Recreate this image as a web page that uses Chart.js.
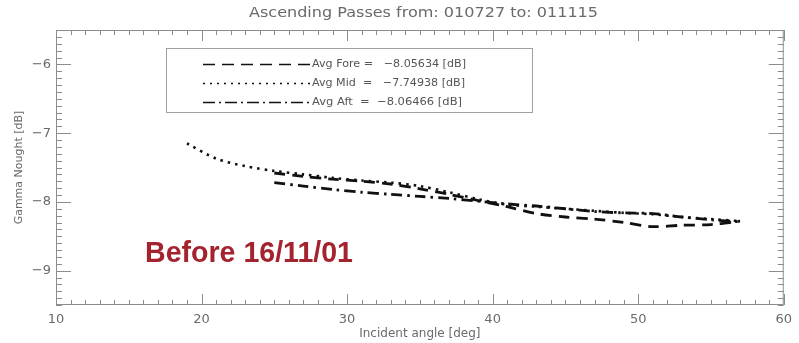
<!DOCTYPE html>
<html>
<head>
<meta charset="utf-8">
<script src="https://cdn.jsdelivr.net/npm/chart.js@4.4.1/dist/chart.umd.min.js"></script>
<style>
  html, body { margin: 0; padding: 0; background: #ffffff; }
  #chart { display: block; }
</style>
</head>
<body>
<canvas id="chart" width="799" height="343"></canvas>
<script>
// ---------------------------------------------------------------
// Data
// ---------------------------------------------------------------
const titleText = 'Ascending Passes from: 010727 to: 011115';
const noteText = 'Before 16/11/01';

const anglesMid = [19, 21, 23, 25, 27, 29, 31, 33, 35, 37, 39, 41, 43, 45, 47, 49, 51, 53, 55, 57];
const midValues = [-7.15, -7.37, -7.48, -7.55, -7.60, -7.65, -7.69, -7.72, -7.77, -7.86, -7.96, -8.04, -8.07, -8.10, -8.13, -8.16, -8.18, -8.22, -8.25, -8.28];

const anglesForeAft = [25, 27, 29, 31, 33, 35, 37, 39, 41, 43, 45, 47, 49, 51, 53, 55, 57];
const foreValues = [-7.58, -7.63, -7.67, -7.70, -7.74, -7.81, -7.89, -7.98, -8.07, -8.17, -8.22, -8.25, -8.30, -8.36, -8.34, -8.33, -8.28];
const aftValues  = [-7.72, -7.77, -7.82, -7.86, -7.89, -7.92, -7.95, -7.99, -8.03, -8.06, -8.10, -8.14, -8.16, -8.17, -8.22, -8.26, -8.29];

const legendRows = [
    'Avg Fore =   \u22128.05634 [dB]',
    'Avg Mid  =   \u22127.74938 [dB]',
    'Avg Aft  =  \u22128.06466 [dB]'
];
const legendDashes = [[12, 7], [2, 5], [12, 4, 2, 4]];

const xTicks = [10, 20, 30, 40, 50, 60];
const yTicks = [-9, -8, -7, -6];

// ---------------------------------------------------------------
// Styling helpers
// ---------------------------------------------------------------
const textGray = '#6a6a6a';
const frameGray = '#8c8c8c';
const fontFamily = "'DejaVu Sans', sans-serif";

const toPoints = (xs, ys) => xs.map((x, i) => ({ x: x, y: ys[i] }));

// draw text starting at x, stretched or squeezed to the given width
function fitText(ctx, text, x, y, width) {
    const w = ctx.measureText(text).width;
    ctx.save();
    ctx.translate(x, y);
    ctx.scale(width / w, 1);
    ctx.fillText(text, 0, 0);
    ctx.restore();
}

// Frame, inward ticks on all four sides, title, legend box and note
const decorations = {
    id: 'decorations',
    afterDraw(chart) {
        const { ctx, chartArea: a, scales: { x, y } } = chart;
        ctx.save();

        // frame
        ctx.strokeStyle = frameGray;
        ctx.lineWidth = 1;
        ctx.strokeRect(a.left + 0.5, a.top + 0.5, a.right - a.left - 1, a.bottom - a.top - 1);

        // ticks
        ctx.beginPath();
        for (let v = 10; v <= 60; v++) {
            const px = Math.round(x.getPixelForValue(v)) + 0.5;
            const len = v % 10 === 0 ? 11 : 5;
            ctx.moveTo(px, a.bottom); ctx.lineTo(px, a.bottom - len);
            ctx.moveTo(px, a.top); ctx.lineTo(px, a.top + len);
        }
        for (let i = -95; i <= -55; i++) {
            const py = Math.round(y.getPixelForValue(i / 10)) + 0.5;
            const len = i % 10 === 0 ? 15 : 6;
            ctx.moveTo(a.left, py); ctx.lineTo(a.left + len, py);
            ctx.moveTo(a.right, py); ctx.lineTo(a.right - len, py);
        }
        ctx.stroke();

        // title
        ctx.fillStyle = textGray;
        ctx.font = '14px ' + fontFamily;
        ctx.textAlign = 'left';
        ctx.textBaseline = 'middle';
        fitText(ctx, titleText, 249, 13, 349);

        // legend box
        ctx.strokeStyle = '#a0a0a0';
        ctx.strokeRect(166.5, 48.5, 366, 64);
        const rows = [64, 83, 102];
        const rowWidths = [154, 153, 150];
        ctx.font = '11px ' + fontFamily;
        rows.forEach((ry, i) => {
            ctx.strokeStyle = '#111111';
            ctx.lineWidth = 1.6;
            ctx.setLineDash(legendDashes[i]);
            ctx.beginPath();
            ctx.moveTo(203, ry + 0.5);
            ctx.lineTo(310, ry + 0.5);
            ctx.stroke();
            ctx.setLineDash([]);
            ctx.fillStyle = '#555555';
            fitText(ctx, legendRows[i], 312, ry, rowWidths[i]);
        });

        // red note, squeezed horizontally to the reference width
        ctx.fillStyle = '#a3242f';
        ctx.font = 'bold 29px "Liberation Sans", Arial, sans-serif';
        ctx.textBaseline = 'alphabetic';
        fitText(ctx, noteText, 145, 262, 208);

        ctx.restore();
    }
};

new Chart(document.getElementById('chart'), {
    type: 'line',
    data: {
        datasets: [
            {
                label: 'Avg Fore',
                data: toPoints(anglesForeAft, foreValues),
                borderColor: '#111111',
                borderWidth: 2.8,
                borderDash: [11, 7],
                pointRadius: 0,
                tension: 0.3
            },
            {
                label: 'Avg Mid',
                data: toPoints(anglesMid, midValues),
                borderColor: '#111111',
                borderWidth: 2.6,
                borderDash: [2.5, 5],
                pointRadius: 0,
                tension: 0.3
            },
            {
                label: 'Avg Aft',
                data: toPoints(anglesForeAft, aftValues),
                borderColor: '#111111',
                borderWidth: 2.8,
                borderDash: [11, 5, 2.5, 5],
                pointRadius: 0,
                tension: 0.3
            }
        ]
    },
    options: {
        responsive: false,
        animation: false,
        devicePixelRatio: 1,
        layout: { padding: { top: 30, right: 9, left: 0, bottom: 0 } },
        plugins: {
            legend: { display: false },
            tooltip: { enabled: false }
        },
        scales: {
            x: {
                type: 'linear',
                min: 10,
                max: 60,
                afterFit: (s) => { s.height = 38; },
                afterBuildTicks: (s) => { s.ticks = xTicks.map(v => ({ value: v })); },
                grid: { display: false, drawTicks: false },
                border: { display: false },
                ticks: {
                    color: textGray,
                    padding: 7,
                    maxRotation: 0,
                    font: { family: fontFamily, size: 13 }
                },
                title: {
                    display: true,
                    text: 'Incident angle [deg]',
                    color: textGray,
                    padding: { top: 0, bottom: 2 },
                    font: { family: fontFamily, size: 12 }
                }
            },
            y: {
                min: -9.5,
                max: -5.5,
                afterFit: (s) => { s.width = 56; },
                afterBuildTicks: (s) => { s.ticks = yTicks.map(v => ({ value: v })); },
                grid: { display: false, drawTicks: false },
                border: { display: false },
                ticks: {
                    color: textGray,
                    padding: 5,
                    font: { family: fontFamily, size: 13 },
                    callback: (v) => (v < 0 ? '\u2212' : '') + Math.abs(v)
                },
                title: {
                    display: true,
                    text: 'Gamma Nought [dB]',
                    color: textGray,
                    padding: { top: 13, bottom: 0 },
                    font: { family: fontFamily, size: 11 }
                }
            }
        }
    },
    plugins: [decorations]
});
</script>
</body>
</html>
